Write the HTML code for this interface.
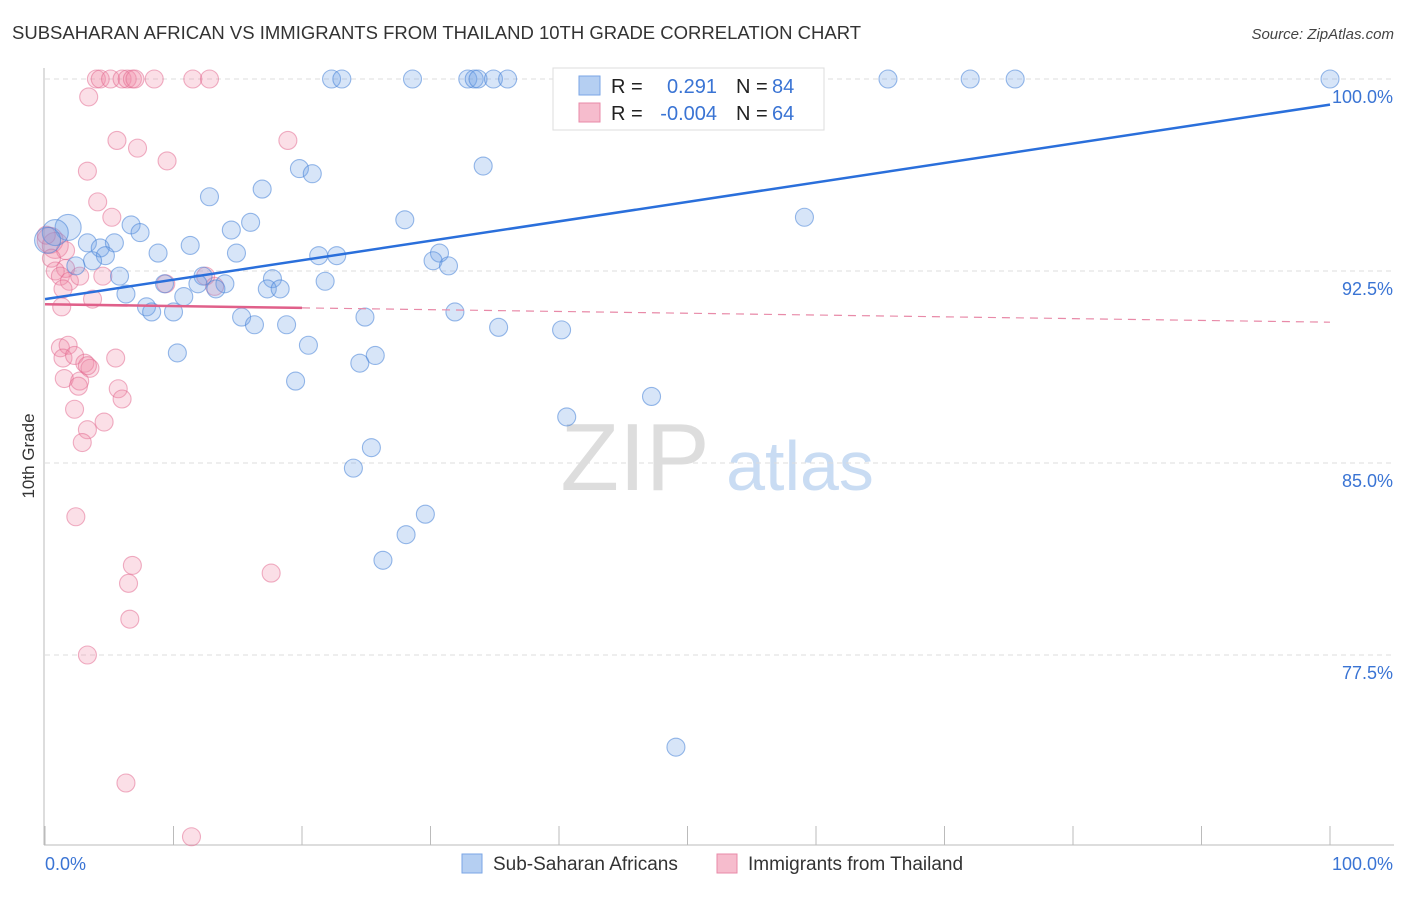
<!DOCTYPE html>
<html><head><meta charset="utf-8"><style>
body{margin:0;background:#fff;font-family:"Liberation Sans",sans-serif}
svg text{font-family:"Liberation Sans",sans-serif}
</style></head><body>
<svg id="chart" width="1406" height="892" xmlns="http://www.w3.org/2000/svg">
<text x="12" y="39" font-size="18.5" fill="#333">SUBSAHARAN AFRICAN VS IMMIGRANTS FROM THAILAND 10TH GRADE CORRELATION CHART</text>
<text x="1394" y="39" font-size="15" fill="#444" text-anchor="end" font-style="italic">Source: ZipAtlas.com</text>
<text transform="translate(34,456) rotate(-90)" font-size="17" fill="#333" text-anchor="middle">10th Grade</text>
<g>
<text x="635" y="490" font-size="96" fill="#ddd" text-anchor="middle" font-family="Liberation Serif">ZIP</text>
<text x="800" y="490" font-size="70" fill="#c9dcf3" text-anchor="middle">atlas</text>
</g>
<g id="grid"></g>
<g id="axes"></g>
<g id="pts"></g>
<g id="lines"></g>
<g>
<rect x="553" y="68" width="271" height="62" fill="#fff" stroke="#ddd"/>
<rect x="579" y="76" width="21" height="19" fill="#b5cff2" stroke="#7aa6e6"/>
<rect x="579" y="103" width="21" height="19" fill="#f6bccd" stroke="#e88aa8"/>
<text x="611" y="93" font-size="20" fill="#222">R =</text>
<text x="717" y="93" font-size="20" fill="#3a74d4" text-anchor="end">0.291</text>
<text x="736" y="93" font-size="20" fill="#222">N =</text>
<text x="772" y="93" font-size="20" fill="#3a74d4">84</text>
<text x="611" y="120" font-size="20" fill="#222">R =</text>
<text x="717" y="120" font-size="20" fill="#3a74d4" text-anchor="end">-0.004</text>
<text x="736" y="120" font-size="20" fill="#222">N =</text>
<text x="772" y="120" font-size="20" fill="#3a74d4">64</text>
</g>
<g>
<rect x="462" y="854" width="20" height="19" fill="#b5cff2" stroke="#7aa6e6"/>
<text x="493" y="870" font-size="19" fill="#333">Sub-Saharan Africans</text>
<rect x="717" y="854" width="20" height="19" fill="#f6bccd" stroke="#e88aa8"/>
<text x="748" y="870" font-size="19" fill="#333">Immigrants from Thailand</text>
</g>
</svg>
<script>
const yTicks=[100,92.5,85,77.5];
const yTickLabels=["100.0%","92.5%","85.0%","77.5%"];
const xTickLabels=["0.0%","100.0%"];
const blueX=[100,22.3,23.1,28.6,32.9,33.4,33.7,34.9,36.0,46.1,65.6,72.0,75.5,43.1,34.1,19.8,20.8,16.9,12.8,59.1,28.0,16.0,6.7,14.5,7.4,1.8,0.8,0.2,3.3,5.4,11.3,4.3,4.7,8.8,14.9,21.3,22.7,30.7,30.2,31.4,3.7,2.4,5.8,9.3,12.3,17.7,11.9,14.0,17.3,18.3,21.8,13.3,6.3,10.8,7.9,8.3,10.0,31.9,15.3,24.9,16.3,18.8,35.3,40.2,20.5,10.3,25.7,24.5,19.5,47.2,40.6,25.4,24.0,29.6,28.1,26.3,49.1];
const blueY=[100,100,100,100,100,100,100,100,100,100,100,100,100,98.7,96.6,96.5,96.3,95.7,95.4,94.6,94.5,94.4,94.3,94.1,94.0,94.2,94.0,93.7,93.6,93.6,93.5,93.4,93.1,93.2,93.2,93.1,93.1,93.2,92.9,92.7,92.9,92.7,92.3,92.0,92.3,92.2,92.0,92.0,91.8,91.8,92.1,91.8,91.6,91.5,91.1,90.9,90.9,90.9,90.7,90.7,90.4,90.4,90.3,90.2,89.6,89.3,89.2,88.9,88.2,87.6,86.8,85.6,84.8,83.0,82.2,81.2,73.9];
const blueBig=[25,26,27];
const pinkX=[4.0,4.3,5.1,6.0,6.4,6.8,8.5,11.5,12.8,7.0,3.4,5.6,7.2,9.5,18.9,3.3,4.1,5.2,0.4,0.8,0.1,1.6,0.5,1.6,0.8,1.2,1.9,2.7,4.5,1.4,3.7,1.3,12.5,9.4,13.2,1.2,1.8,1.4,2.3,3.1,3.5,3.3,5.5,1.5,2.7,2.6,5.7,6.0,2.3,4.6,3.3,2.9,2.4,6.8,6.5,17.6,6.6,3.3,6.3,11.4];
const pinkY=[100,100,100,100,100,100,100,100,100,100,99.3,97.6,97.3,96.8,97.6,96.4,95.2,94.6,93.7,93.5,93.9,93.3,93.0,92.6,92.5,92.3,92.1,92.3,92.3,91.8,91.4,91.1,92.3,92.0,91.9,89.5,89.6,89.1,89.2,88.9,88.7,88.8,89.1,88.3,88.2,88.0,87.9,87.5,87.1,86.6,86.3,85.8,82.9,81.0,80.3,80.7,78.9,77.5,72.5,70.4];
const pinkBig=[18,19];
const blueTrend=[91.4,99.0];
const pinkTrend=[91.2,90.5];
const NS="http://www.w3.org/2000/svg";
const X=v=>45+v*12.85, Y=v=>79+(100-v)*192/7.5;
function mk(t,a,p){const e=document.createElementNS(NS,t);for(const k in a)e.setAttribute(k,a[k]);p.appendChild(e);return e;}
const grid=document.getElementById('grid'),axes=document.getElementById('axes'),pts=document.getElementById('pts'),lines=document.getElementById('lines');
yTicks.forEach((t,i)=>{
 const g=mk('line',{x1:45,x2:1394,y1:Y(t),y2:Y(t),stroke:'#ddd','stroke-dasharray':'5,4'},grid);
 
 
 const l=mk('text',{x:1393,y:Y(t)+24,'font-size':18,fill:'#3a74d4','text-anchor':'end'},axes);
 l.textContent=yTickLabels[i];
 
 
});
const ya=mk('line',{x1:44,x2:44,y1:68,y2:845,stroke:'#bbb'},axes);


const xa=mk('line',{x1:44,x2:1394,y1:845,y2:845,stroke:'#bbb'},axes);


for(let i=0;i<=10;i++){const t=mk('line',{x1:X(i*10),x2:X(i*10),y1:826,y2:845,stroke:'#bbb'},axes);
 
 }
[[0,'start'],[100,'end']].forEach((d,i)=>{const l=mk('text',{x:i?1393:45,y:870,'font-size':18,fill:'#3a74d4','text-anchor':d[1]},axes);l.textContent=xTickLabels[i];
 
 });
pinkX.forEach((x,i)=>{const c=mk('circle',{cx:X(x),cy:Y(pinkY[i]),r:pinkBig.includes(i)?13:9,fill:'rgba(240,140,170,0.28)',stroke:'rgba(225,100,140,0.5)','stroke-width':1.1},pts);
 
 });
blueX.forEach((x,i)=>{const c=mk('circle',{cx:X(x),cy:Y(blueY[i]),r:blueBig.includes(i)?13:9,fill:'rgba(110,160,230,0.28)',stroke:'rgba(70,130,215,0.55)','stroke-width':1.1},pts);
 
 });
const bl=mk('line',{x1:X(0),y1:Y(blueTrend[0]),x2:X(100),y2:Y(blueTrend[1]),stroke:'#2a6fdb','stroke-width':2.5},lines);


const py=x=>pinkTrend[0]+(pinkTrend[1]-pinkTrend[0])*x/100;
const pl=mk('line',{x1:X(0),y1:Y(py(0)),x2:X(20),y2:Y(py(20)),stroke:'#e0608a','stroke-width':2.5},lines);


const pd=mk('line',{x1:X(20),y1:Y(py(20)),x2:X(100),y2:Y(py(100)),stroke:'#e88aa8','stroke-width':1.2,'stroke-dasharray':'8,6'},lines);


</script>
</body></html>
